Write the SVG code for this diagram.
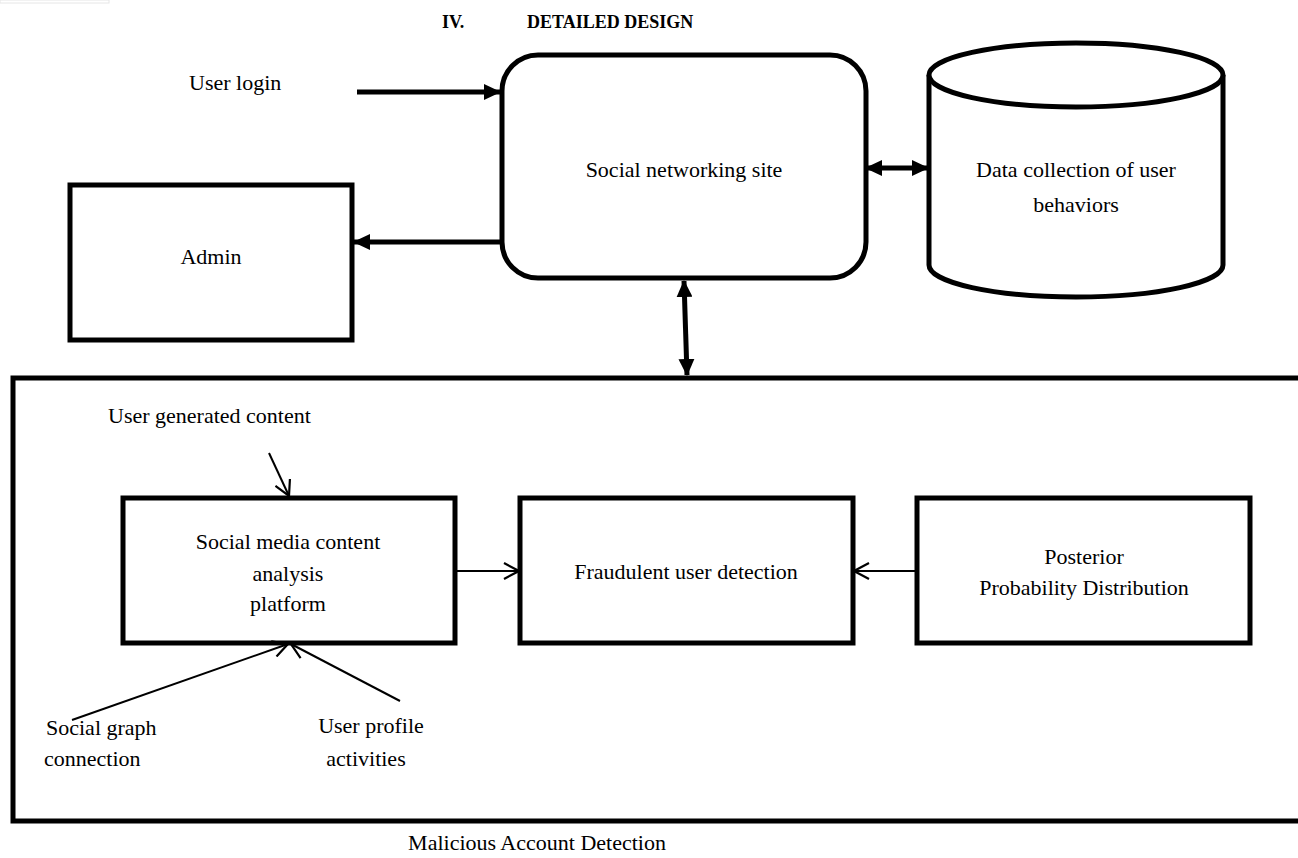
<svg xmlns="http://www.w3.org/2000/svg" width="1298" height="858" viewBox="0 0 1298 858">
<style>
text{font-family:"Liberation Serif","Times New Roman",serif;font-size:22px;fill:#000}
.t{text-anchor:middle}
.title{font-weight:bold;font-size:18px}
.box{fill:#fff;stroke:#000;stroke-width:5}
.thick{stroke:#000;stroke-width:5;fill:none}
.thin{stroke:#000;stroke-width:2;fill:none}
</style>
<defs>
<marker id="fa" markerUnits="userSpaceOnUse" markerWidth="18" markerHeight="16" refX="16" refY="8" orient="auto-start-reverse" viewBox="0 0 18 16">
<path d="M0,0 L17,8 L0,16 Z" fill="#000"/>
</marker>
<marker id="oa" markerUnits="userSpaceOnUse" markerWidth="18" markerHeight="18" refX="16" refY="9" orient="auto" viewBox="0 0 18 18">
<path d="M1,1 L16,9 L1,17" fill="none" stroke="#000" stroke-width="2.2"/>
</marker>
</defs>
<rect x="0" y="0" width="109" height="3" fill="none" stroke="#e6e6e6" stroke-width="1"/>
<text class="title" x="442" y="28">IV.</text>
<text class="title" x="527" y="28">DETAILED DESIGN</text>

<g id="social-site">
<rect class="box" x="502" y="55" width="364" height="223" rx="36" ry="36"/>
<text class="t" x="684" y="177">Social networking site</text>
</g>
<g id="admin">
<rect class="box" x="70" y="185" width="282" height="155"/>
<text class="t" x="211" y="264">Admin</text>
</g>
<g id="data-collection">
<path class="box" d="M929,75 L929,265 A147,32 0 0 0 1223,265 L1223,75"/>
<ellipse class="box" cx="1076" cy="75" rx="147" ry="32"/>
<text class="t" x="1076" y="177">Data collection of user</text>
<text class="t" x="1076" y="212">behaviors</text>
</g>
<g id="user-login">
<text x="189" y="90">User login</text>
</g>
<g id="malicious-detection">
<path class="thick" d="M1300,378 L13,378 L13,821 L1300,821"/>
<text class="t" x="537" y="850">Malicious Account Detection</text>
</g>
<g id="smca">
<rect class="box" x="123" y="498" width="332" height="145"/>
<text class="t" x="288" y="549">Social media content</text>
<text class="t" x="288" y="581">analysis</text>
<text class="t" x="288" y="611">platform</text>
</g>
<g id="fraud">
<rect class="box" x="520" y="498" width="333" height="145"/>
<text class="t" x="686" y="579">Fraudulent user detection</text>
</g>
<g id="posterior">
<rect class="box" x="917" y="498" width="333" height="145"/>
<text class="t" x="1084" y="564">Posterior</text>
<text class="t" x="1084" y="595">Probability Distribution</text>
</g>
<g id="ugc"><text x="108" y="423">User generated content</text></g>
<g id="sgc">
<text x="46" y="735">Social graph</text>
<text x="44" y="766">connection</text>
</g>
<g id="upa">
<text class="t" x="371" y="733">User profile</text>
<text class="t" x="366" y="766">activities</text>
</g>
<g id="connectors">
<line class="thick" x1="357" y1="92" x2="500" y2="92" marker-end="url(#fa)"/>
<line class="thick" x1="502" y1="242" x2="354" y2="242" marker-end="url(#fa)"/>
<line class="thick" x1="866" y1="168" x2="928" y2="168" marker-start="url(#fa)" marker-end="url(#fa)"/>
<line class="thick" x1="684" y1="281" x2="687" y2="375" marker-start="url(#fa)" marker-end="url(#fa)"/>
<line class="thin" x1="269" y1="453" x2="289" y2="496" marker-end="url(#oa)"/>
<line class="thin" x1="455" y1="571" x2="519" y2="571" marker-end="url(#oa)"/>
<line class="thin" x1="917" y1="571" x2="854" y2="571" marker-end="url(#oa)"/>
<line class="thin" x1="72" y1="720" x2="288" y2="644" marker-end="url(#oa)"/>
<line class="thin" x1="400" y1="701" x2="291" y2="644" marker-end="url(#oa)"/>
</g>
</svg>
